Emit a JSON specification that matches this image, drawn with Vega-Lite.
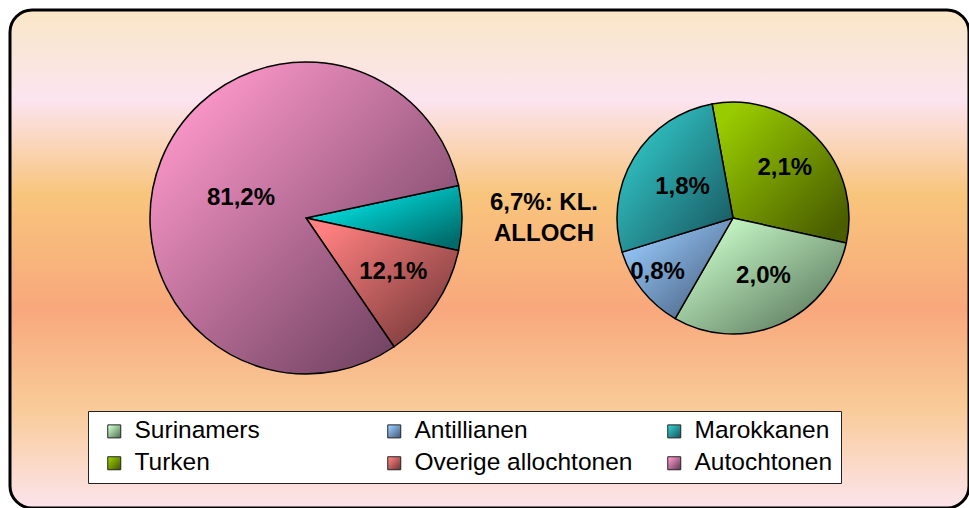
{
  "$schema": "https://vega.github.io/schema/vega-lite/v6.json",
  "width": 969,
  "height": 508,
  "autosize": {"type": "fit", "contains": "padding"},
  "padding": {"left": 10, "top": 10, "right": 0, "bottom": 0},
  "background": "white",
  "data": {
    "values": [
      {"taart": "Totaal", "categorie": "KL. ALLOCH", "aandeel": 6.7, "label": "6,7%: KL.\nALLOCH", "volgorde": 1},
      {"taart": "Totaal", "categorie": "Overige allochtonen", "aandeel": 12.1, "label": "12,1%", "volgorde": 2},
      {"taart": "Totaal", "categorie": "Autochtonen", "aandeel": 81.2, "label": "81,2%", "volgorde": 3},
      {"taart": "KL. ALLOCH", "categorie": "Turken", "aandeel": 2.1, "label": "2,1%", "volgorde": 1},
      {"taart": "KL. ALLOCH", "categorie": "Surinamers", "aandeel": 2.0, "label": "2,0%", "volgorde": 2},
      {"taart": "KL. ALLOCH", "categorie": "Antillianen", "aandeel": 0.8, "label": "0,8%", "volgorde": 3},
      {"taart": "KL. ALLOCH", "categorie": "Marokkanen", "aandeel": 1.8, "label": "1,8%", "volgorde": 4}
    ]
  },
  "encoding": {
    "x": {"field": "taart", "type": "nominal", "scale": {"type": "point", "domain": ["Totaal", "KL. ALLOCH"], "range": [296, 723], "padding": 0}, "axis": null},
    "y": {"field": "taart", "type": "nominal", "scale": {"type": "point", "domain": ["Totaal", "KL. ALLOCH"], "range": [208, 208], "padding": 0}, "axis": null},
    "color": {
      "field": "categorie",
      "type": "nominal",
      "scale": {
        "domain": ["Surinamers", "Antillianen", "Marokkanen", "Turken", "Overige allochtonen", "Autochtonen", "KL. ALLOCH"],
        "range": [
          {"expr": "{gradient:'linear',x1:0.1,y1:0.1,x2:0.9,y2:0.9,stops:[{offset:0,color:'#CCFFCC'},{offset:1,color:'#5C7A5E'}]}"},
          {"expr": "{gradient:'linear',x1:0.1,y1:0.1,x2:0.9,y2:0.9,stops:[{offset:0,color:'#99CCFF'},{offset:1,color:'#4A6282'}]}"},
          {"expr": "{gradient:'linear',x1:0.1,y1:0.1,x2:0.9,y2:0.9,stops:[{offset:0,color:'#33CCCC'},{offset:1,color:'#1A5E66'}]}"},
          {"expr": "{gradient:'linear',x1:0.1,y1:0.1,x2:0.9,y2:0.9,stops:[{offset:0,color:'#99CC00'},{offset:1,color:'#4A5E00'}]}"},
          {"expr": "{gradient:'linear',x1:0.1,y1:0.1,x2:0.9,y2:0.9,stops:[{offset:0,color:'#FF8080'},{offset:1,color:'#7A3A3A'}]}"},
          {"expr": "{gradient:'linear',x1:0.1,y1:0.1,x2:0.9,y2:0.9,stops:[{offset:0,color:'#FF99CC'},{offset:1,color:'#6B3F5E'}]}"},
          {"expr": "{gradient:'linear',x1:0.1,y1:0.1,x2:0.9,y2:0.9,stops:[{offset:0,color:'#00F0F0'},{offset:1,color:'#006B6B'}]}"}
        ]
      },
      "legend": {
        "values": ["Surinamers", "Antillianen", "Marokkanen", "Turken", "Overige allochtonen", "Autochtonen"],
        "title": null,
        "orient": "none",
        "legendX": 78,
        "legendY": 401,
        "direction": "horizontal",
        "columns": 3,
        "gridAlign": "all",
        "columnPadding": 23,
        "rowPadding": 7,
        "padding": 8,
        "fillColor": "white",
        "strokeColor": "#222222",
        "symbolType": "square",
        "symbolSize": 169,
        "symbolStrokeColor": "#222222",
        "symbolStrokeWidth": 1,
        "symbolOffset": 6,
        "labelOffset": 8,
        "labelFont": "Liberation Sans",
        "labelFontSize": 24.5,
        "labelColor": "black",
        "labelLimit": 400
      }
    }
  },
  "layer": [
    {
      "transform": [{"filter": "datum.taart === 'Totaal'"}],
      "encoding": {
        "theta": {"field": "aandeel", "type": "quantitative", "stack": true, "scale": {"domain": [0, 100], "range": [1.3603, 7.6435]}},
        "order": {"field": "volgorde", "type": "quantitative"}
      },
      "layer": [
        {"mark": {"type": "arc", "outerRadius": 156, "stroke": "black", "strokeWidth": 1.5}},
        {
          "mark": {"type": "text", "radius": {"expr": "datum.categorie === 'KL. ALLOCH' ? 238 : datum.categorie === 'Overige allochtonen' ? 105 : 70"}, "dy": {"expr": "datum.categorie === 'KL. ALLOCH' ? -15 : datum.categorie === 'Autochtonen' ? 6 : -4"}, "font": "Liberation Sans", "fontSize": 24, "fontWeight": "bold", "lineBreak": "\n", "lineHeight": 31, "align": "center", "baseline": "middle"},
          "encoding": {"text": {"field": "label"}, "color": {"value": "black"}, "detail": {"field": "categorie"}}
        }
      ]
    },
    {
      "transform": [{"filter": "datum.taart === 'KL. ALLOCH'"}],
      "encoding": {
        "theta": {"field": "aandeel", "type": "quantitative", "stack": true, "scale": {"domain": [0, 6.7], "range": [-0.1815, 6.1017]}},
        "order": {"field": "volgorde", "type": "quantitative"}
      },
      "layer": [
        {"mark": {"type": "arc", "outerRadius": 116, "stroke": "black", "strokeWidth": 1.5}},
        {
          "mark": {"type": "text", "radius": {"expr": "datum.categorie === 'Antillianen' ? 94 : datum.categorie === 'Turken' ? 72 : datum.categorie === 'Surinamers' ? 63 : 59"}, "dy": {"expr": "datum.categorie === 'Antillianen' ? -5 : 0"}, "dx": {"expr": "datum.categorie === 'Surinamers' ? 5 : datum.categorie === 'Antillianen' ? -2 : 0"}, "font": "Liberation Sans", "fontSize": 24, "fontWeight": "bold", "align": "center", "baseline": "middle"},
          "encoding": {"text": {"field": "label"}, "color": {"value": "black"}, "detail": {"field": "categorie"}}
        }
      ]
    }
  ],
  "resolve": {"scale": {"theta": "independent"}},
  "config": {
    "view": {
      "stroke": "black",
      "strokeWidth": 3,
      "cornerRadius": 22,
      "fill": {
        "gradient": "linear",
        "x1": 0, "y1": 0, "x2": 0, "y2": 1,
        "stops": [
          {"offset": 0, "color": "#F9E7C6"},
          {"offset": 0.18, "color": "#FCE4F0"},
          {"offset": 0.37, "color": "#F8C57C"},
          {"offset": 0.6, "color": "#F8A87C"},
          {"offset": 0.8, "color": "#F9CB98"},
          {"offset": 1, "color": "#FCE4EC"}
        ]
      }
    }
  }
}
